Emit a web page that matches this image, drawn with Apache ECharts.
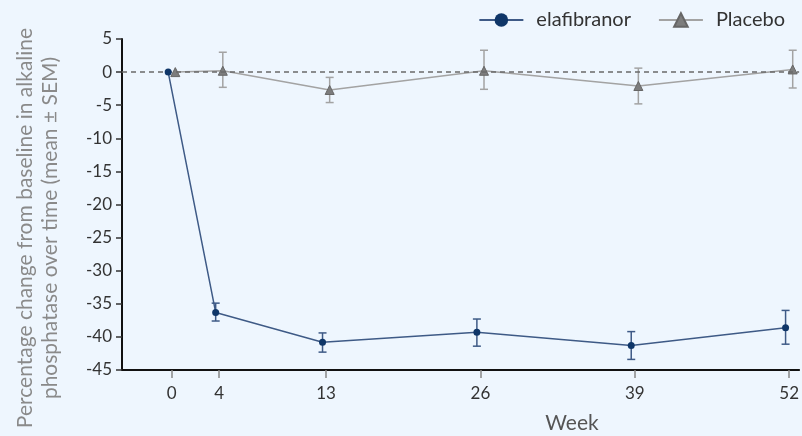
<!DOCTYPE html>
<html>
<head>
<meta charset="utf-8">
<script src="https://cdn.jsdelivr.net/npm/echarts@6/dist/echarts.min.js"></script>
<style>
  html, body { margin: 0; padding: 0; background: #eef6fe; }
  #main { width: 802px; height: 436px; }
</style>
</head>
<body>
<div id="main"></div>
<script>
// weeks shown on the x axis
var weeks = [0, 4, 13, 26, 39, 52];

// elafibranor: mean, lower and upper SEM
var elafMean = [0, -36.3, -40.8, -39.3, -41.3, -38.6];
var elafLow  = [0, -37.6, -42.3, -41.4, -43.4, -41.1];
var elafHigh = [0, -34.9, -39.4, -37.3, -39.2, -36.0];

// placebo
var placMean = [0, 0.2, -2.7, 0.2, -2.1, 0.4];
var placLow  = [0, -2.3, -4.6, -2.6, -4.8, -2.4];
var placHigh = [0, 3.0, -0.8, 3.3, 0.6, 3.3];

// small horizontal dodge so the two groups don't overlap
var dodgeE = -0.3;
var dodgeP = 0.3;

var elafColor = '#0f3668';
var elafLine = '#3e5a86';
var placColor = '#7d7d7d';
var placLine = '#a3a3a3';

function points(mean, dodge) {
    var out = [];
    for (var i = 0; i < weeks.length; i++) {
        out.push([weeks[i] + dodge, mean[i]]);
    }
    return out;
}
function bars(low, high, dodge) {
    var out = [];
    for (var i = 0; i < weeks.length; i++) {
        if (low[i] === high[i]) continue;
        out.push([weeks[i] + dodge, low[i], high[i]]);
    }
    return out;
}
function errorBar(color) {
    return function (params, api) {
        var lo = api.coord([api.value(0), api.value(1)]);
        var hi = api.coord([api.value(0), api.value(2)]);
        var w = 4;
        var style = { stroke: color, lineWidth: 1.5 };
        return {
            type: 'group',
            children: [
                { type: 'line', shape: { x1: lo[0], y1: lo[1], x2: hi[0], y2: hi[1] }, style: style },
                { type: 'line', shape: { x1: lo[0] - w, y1: lo[1], x2: lo[0] + w, y2: lo[1] }, style: style },
                { type: 'line', shape: { x1: hi[0] - w, y1: hi[1], x2: hi[0] + w, y2: hi[1] }, style: style }
            ]
        };
    };
}

var chart = echarts.init(document.getElementById('main'));
var option = {
    backgroundColor: '#eef6fe',
    animation: false,
    textStyle: { fontFamily: 'Lato' },
    legend: {
        right: 12,
        top: 5,
        itemWidth: 44,
        itemHeight: 17,
        itemGap: 27,
        textStyle: { fontSize: 20, color: '#333', fontFamily: 'Lato', padding: [0, 0, 0, 8] },
        data: ['elafibranor', 'Placebo']
    },
    grid: { left: 122, right: 0, top: 39, bottom: 66 },
    xAxis: {
        type: 'value',
        min: -4.19,
        max: 52.84,
        axisLine: { onZero: false, lineStyle: { color: '#111', width: 2 } },
        axisTick: { customValues: weeks, length: 8, lineStyle: { color: '#888', width: 1.5 } },
        axisLabel: { customValues: weeks, fontSize: 17, color: '#333', margin: 15 },
        splitLine: { show: false }
    },
    yAxis: {
        type: 'value',
        min: -45,
        max: 5,
        interval: 5,
        axisLine: { show: true, onZero: false, lineStyle: { color: '#111', width: 2 } },
        axisTick: { show: true, length: 6, lineStyle: { color: '#333', width: 1.5 } },
        axisLabel: { fontSize: 17, color: '#333', margin: 10 },
        splitLine: { show: false }
    },
    graphic: [{
        type: 'text',
        x: 38,
        y: 228,
        rotation: Math.PI / 2,
        style: {
            text: 'Percentage change from baseline in alkaline\nphosphatase over time (mean ± SEM)',
            font: '21px Lato',
            fill: '#8a8a8a',
            align: 'center',
            verticalAlign: 'middle',
            lineHeight: 25
        }
    }, {
        type: 'text',
        x: 572,
        y: 423,
        style: {
            text: 'Week',
            font: '21px Lato',
            fill: '#555',
            align: 'center',
            verticalAlign: 'middle'
        }
    }],
    series: [
        {
            name: 'Placebo',
            type: 'line',
            data: points(placMean, dodgeP),
            symbol: 'triangle',
            symbolSize: 9,
            itemStyle: { color: placColor, borderColor: '#666', borderWidth: 1 },
            lineStyle: { color: placLine, width: 1.5 },
            z: 3,
            markLine: {
                silent: true,
                symbol: ['none', 'none'],
                label: { show: false },
                lineStyle: { color: '#6a6a6a', type: [5, 4], width: 1.5 },
                data: [{ yAxis: 0 }]
            }
        },
        {
            type: 'custom',
            renderItem: errorBar(placLine),
            data: bars(placLow, placHigh, dodgeP),
            encode: { x: 0, y: [1, 2] },
            z: 2
        },
        {
            name: 'elafibranor',
            type: 'line',
            data: points(elafMean, dodgeE),
            symbol: 'circle',
            symbolSize: 7,
            itemStyle: { color: elafColor },
            lineStyle: { color: elafLine, width: 1.5 },
            z: 5
        },
        {
            type: 'custom',
            renderItem: errorBar(elafLine),
            data: bars(elafLow, elafHigh, dodgeE),
            encode: { x: 0, y: [1, 2] },
            z: 4
        }
    ]
};
chart.setOption(option);
</script>
</body>
</html>
